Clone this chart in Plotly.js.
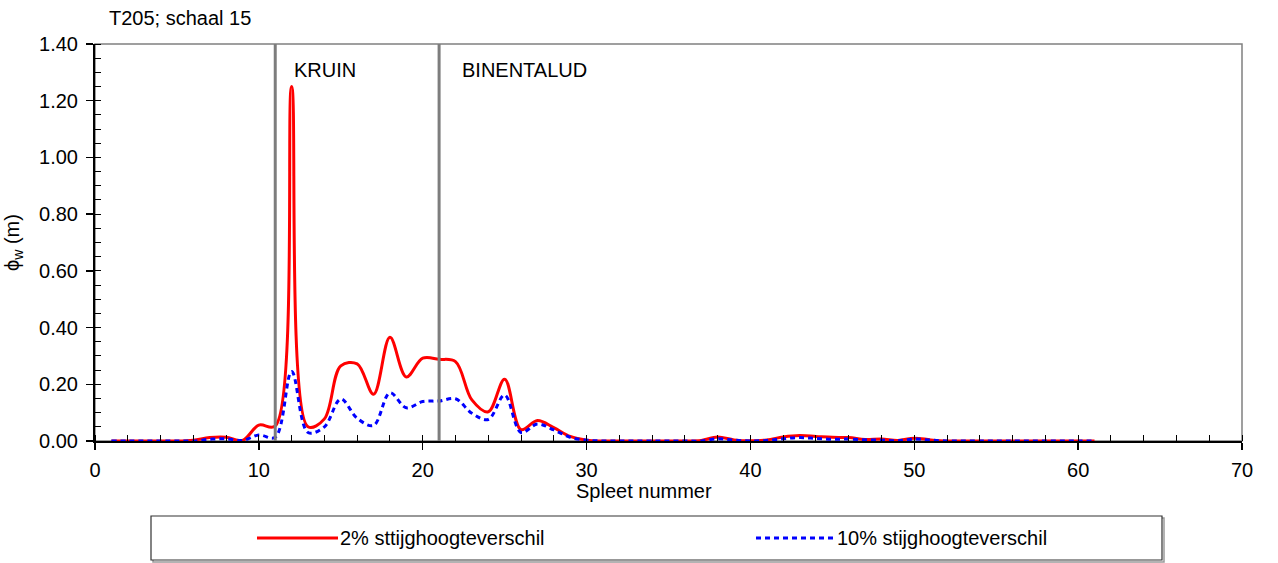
<!DOCTYPE html>
<html>
<head>
<meta charset="utf-8">
<script src="https://cdn.plot.ly/plotly-3.0.1.min.js"></script>
<style>html,body{margin:0;padding:0;background:#fff;}#chart{width:1278px;height:563px;}</style>
</head>
<body>
<div id="chart"></div>
<script>
// Spleet nummer
const spleet = [1,2,3,4,5,6,7,8,9,10,11,12,13,14,15,16,17,18,19,20,21,22,23,24,25,26,27,28,29,30,31,32,33,34,35,36,37,38,39,40,41,42,43,44,45,46,47,48,49,50,51,52,53,54,55,56,57,58,59,60,61];
// 2% stijghoogteverschil (m)
const phi2 = [0,0,0,0,0,0.003,0.012,0.013,0.002,0.056,0.053,1.25,0.05,0.078,0.265,0.272,0.165,0.366,0.226,0.292,0.288,0.28,0.145,0.103,0.218,0.04,0.072,0.047,0.016,0.003,0,0,0,0,0,0,0.002,0.014,0.004,0.001,0.004,0.014,0.019,0.016,0.013,0.012,0.005,0.007,0.002,0.010,0.004,0,0,0,0,0,0,0,0,0,0];
// 10% stijghoogteverschil (m)
const phi10 = [0,0,0,0,0,0,0.006,0.008,0.002,0.021,0.013,0.245,0.03,0.05,0.148,0.08,0.055,0.17,0.117,0.139,0.141,0.149,0.098,0.076,0.162,0.03,0.06,0.039,0.013,0.003,0,0,0,0,0,0,0,0.008,0.003,0,0.002,0.008,0.012,0.009,0.006,0.007,0.004,0.003,0.001,0.007,0.003,0,0,0,0,0,0,0,0,0,0];
const seriesNames = ["2% sttijghoogteverschil", "10% stijghoogteverschil"];
const zoneBounds = [11, 21];
const zoneLabels = ["KRUIN", "BINENTALUD"];

const FONT = "Liberation Sans, Arial, sans-serif";
const W = 1278, H = 563, L = 95, R = 36, T = 44, B = 122;
const pw = W - L - R, ph = H - T - B;
const px = v => (v - L) / pw;          // pixel -> paper x
const py = v => (H - B - v) / ph;      // pixel -> paper y

const traces = [
  {x: spleet, y: phi2, type: 'scatter', mode: 'lines', name: seriesNames[0],
   line: {color: '#ff0000', width: 3, shape: 'spline', smoothing: 1}, showlegend: false},
  {x: spleet, y: phi10, type: 'scatter', mode: 'lines', name: seriesNames[1],
   line: {color: '#0000ff', width: 3, dash: '5px,4px', shape: 'spline', smoothing: 1}, showlegend: false}
];

const shapes = [
  {type: 'rect', xref: 'paper', yref: 'paper', x0: 0, x1: 1, y0: 0, y1: 1, line: {color: '#808080', width: 1.5}, layer: 'below'}
];
zoneBounds.forEach(b => shapes.push({type: 'line', xref: 'x', yref: 'paper', x0: b, x1: b, y0: 0, y1: 1, line: {color: '#7d7d7d', width: 3}}));
// legend box (with slight shadow) and samples
shapes.push({type: 'rect', xref: 'paper', yref: 'paper', x0: px(153), x1: px(1164), y0: py(562), y1: py(518), line: {color: '#9a9a9a', width: 1.5}});
shapes.push({type: 'rect', xref: 'paper', yref: 'paper', x0: px(151), x1: px(1162), y0: py(560), y1: py(516), line: {color: '#333', width: 1.2}, fillcolor: '#fff'});
shapes.push({type: 'line', xref: 'paper', yref: 'paper', x0: px(257), x1: px(338), y0: py(538), y1: py(538), line: {color: '#ff0000', width: 3}});
shapes.push({type: 'line', xref: 'paper', yref: 'paper', x0: px(756), x1: px(836), y0: py(538), y1: py(538), line: {color: '#0000ff', width: 3, dash: '5px,4px'}});

const annotations = [
  {text: zoneLabels[0], xref: 'x', yref: 'y', x: 12.0, y: 1.31, xanchor: 'left', yanchor: 'middle', showarrow: false, font: {family: FONT, size: 20, color: '#000'}},
  {text: zoneLabels[1], xref: 'x', yref: 'y', x: 22.28, y: 1.31, xanchor: 'left', yanchor: 'middle', showarrow: false, font: {family: FONT, size: 20, color: '#000'}},
  {text: 'Spleet nummer', xref: 'paper', yref: 'paper', x: px(643.5), y: py(491), xanchor: 'center', yanchor: 'middle', showarrow: false, font: {family: FONT, size: 20, color: '#000'}},
  {text: seriesNames[0], xref: 'paper', yref: 'paper', x: px(338), y: py(538), xanchor: 'left', yanchor: 'middle', showarrow: false, font: {family: FONT, size: 20, color: '#000'}},
  {text: seriesNames[1], xref: 'paper', yref: 'paper', x: px(835), y: py(538), xanchor: 'left', yanchor: 'middle', showarrow: false, font: {family: FONT, size: 20, color: '#000'}}
];

const layout = {
  width: W, height: H,
  margin: {l: L, r: R, t: T, b: B, pad: 0},
  paper_bgcolor: '#fff', plot_bgcolor: '#fff',
  font: {family: FONT, size: 20, color: '#000'},
  title: {text: 'T205; schaal 15', xref: 'container', yref: 'container', x: 109 / W, xanchor: 'left', y: 1 - 18 / H, yanchor: 'middle', font: {family: FONT, size: 20, color: '#000'}},
  xaxis: {range: [0, 70], dtick: 10, tick0: 0, showgrid: false, zeroline: false, showline: true, linecolor: '#000', linewidth: 2,
          ticks: 'outside', ticklen: 7, tickwidth: 1.5, tickcolor: '#000', ticklabelstandoff: 3,
          minor: {dtick: 2, tick0: 0, ticks: 'inside', ticklen: 6, tickwidth: 1, tickcolor: '#000'},
          tickfont: {family: FONT, size: 20, color: '#000'}},
  yaxis: {range: [0, 1.4], dtick: 0.2, tick0: 0, tickformat: '.2f', showgrid: false, zeroline: false, showline: true, linecolor: '#000', linewidth: 2,
          ticks: 'outside', ticklen: 7, tickwidth: 1.5, tickcolor: '#000', ticklabelstandoff: 4,
          minor: {dtick: 0.05, tick0: 0, ticks: 'inside', ticklen: 6, tickwidth: 1, tickcolor: '#000'},
          tickfont: {family: FONT, size: 20, color: '#000'},
          title: {text: 'ϕ<sub>w</sub> (m)', standoff: 14, font: {family: FONT, size: 20, color: '#000'}}},
  shapes: shapes,
  annotations: annotations,
  showlegend: false
};

Plotly.newPlot('chart', traces, layout, {staticPlot: true, displayModeBar: false});
</script>
</body>
</html>
